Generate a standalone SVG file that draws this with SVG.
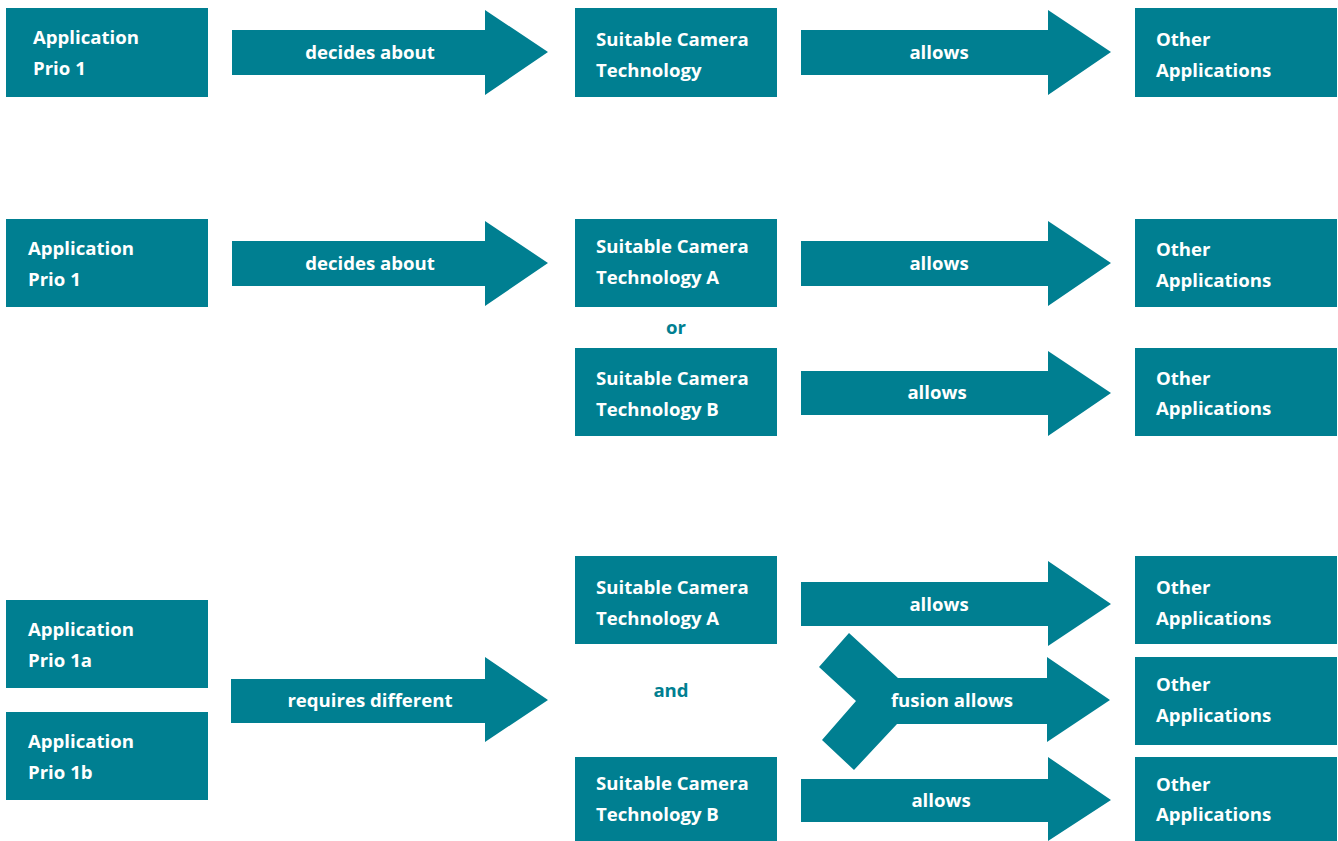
<svg xmlns="http://www.w3.org/2000/svg" width="1338" height="841" viewBox="0 0 1338 841">
<style>
.b{fill:#007F91}
.t{font-family:"Open Sans","Noto Sans",sans-serif;font-weight:700;font-size:18.6px;fill:#fff}
.c{text-anchor:middle}
.k{font-family:"Open Sans","Noto Sans",sans-serif;font-weight:700;font-size:18.6px;fill:#007F91;text-anchor:middle}
</style>
<rect width="1338" height="841" fill="#fff"/>
<g id="connectors">
<g id="a1"><polygon class="b" points="232,30 485,30 485,10 548,52 485,95 485,75 232,75"/><text class="t c" x="370" y="59">decides about</text></g>
<g id="a2"><polygon class="b" points="801,30 1048,30 1048,10 1111,52 1048,95 1048,75 801,75"/><text class="t c" x="939" y="59">allows</text></g>
<g id="a3"><polygon class="b" points="232,241 485,241 485,221 548,263 485,306 485,286 232,286"/><text class="t c" x="370" y="270">decides about</text></g>
<g id="a4"><polygon class="b" points="801,241 1048,241 1048,221 1111,263 1048,306 1048,286 801,286"/><text class="t c" x="939" y="270">allows</text></g>
<g id="a5"><polygon class="b" points="801,371 1048,371 1048,351 1111,393 1048,436 1048,415 801,415"/><text class="t c" x="937" y="399">allows</text></g>
<g id="a6"><polygon class="b" points="231,679 485,679 485,657 548,700 485,742 485,723 231,723"/><text class="t c" x="370" y="707">requires different</text></g>
<g id="a7"><polygon class="b" points="801,582 1048,582 1048,561 1111,604 1048,646 1048,626 801,626"/><text class="t c" x="939" y="611">allows</text></g>
<g id="a8"><polygon class="b" points="849,633 898,678 1047,678 1047,657 1110,700 1047,742 1047,724 897,724 854,770 822,740 856,701 819,667"/><text class="t c" x="952" y="707">fusion allows</text></g>
<g id="a9"><polygon class="b" points="801,779 1048,779 1048,757 1111,800 1048,841 1048,822 801,822"/><text class="t c" x="941" y="807">allows</text></g>
<text class="k" x="676" y="334">or</text>
<text class="k" x="671" y="697">and</text>
</g>
<g id="n1"><rect class="b" x="6" y="8" width="202" height="89"/><text class="t" x="33" y="44">Application</text><text class="t" x="33" y="75">Prio 1</text></g>
<g id="n2"><rect class="b" x="575" y="8" width="202" height="89"/><text class="t" x="596" y="46">Suitable Camera</text><text class="t" x="596" y="77">Technology</text></g>
<g id="n3"><rect class="b" x="1135" y="8" width="202" height="89"/><text class="t" x="1156" y="46">Other</text><text class="t" x="1156" y="77">Applications</text></g>
<g id="n4"><rect class="b" x="6" y="219" width="202" height="88"/><text class="t" x="28" y="255">Application</text><text class="t" x="28" y="286">Prio 1</text></g>
<g id="n5"><rect class="b" x="575" y="219" width="202" height="88"/><text class="t" x="596" y="253">Suitable Camera</text><text class="t" x="596" y="284">Technology A</text></g>
<g id="n6"><rect class="b" x="1135" y="219" width="202" height="88"/><text class="t" x="1156" y="256">Other</text><text class="t" x="1156" y="287">Applications</text></g>
<g id="n7"><rect class="b" x="575" y="348" width="202" height="88"/><text class="t" x="596" y="385">Suitable Camera</text><text class="t" x="596" y="416">Technology B</text></g>
<g id="n8"><rect class="b" x="1135" y="348" width="202" height="88"/><text class="t" x="1156" y="385">Other</text><text class="t" x="1156" y="415">Applications</text></g>
<g id="n9"><rect class="b" x="6" y="600" width="202" height="88"/><text class="t" x="28" y="636">Application</text><text class="t" x="28" y="667">Prio 1a</text></g>
<g id="n10"><rect class="b" x="6" y="712" width="202" height="88"/><text class="t" x="28" y="748">Application</text><text class="t" x="28" y="779">Prio 1b</text></g>
<g id="n11"><rect class="b" x="575" y="556" width="202" height="88"/><text class="t" x="596" y="594">Suitable Camera</text><text class="t" x="596" y="625">Technology A</text></g>
<g id="n12"><rect class="b" x="575" y="757" width="202" height="84"/><text class="t" x="596" y="790">Suitable Camera</text><text class="t" x="596" y="821">Technology B</text></g>
<g id="n13"><rect class="b" x="1135" y="556" width="202" height="88"/><text class="t" x="1156" y="594">Other</text><text class="t" x="1156" y="625">Applications</text></g>
<g id="n14"><rect class="b" x="1135" y="657" width="202" height="88"/><text class="t" x="1156" y="691">Other</text><text class="t" x="1156" y="722">Applications</text></g>
<g id="n15"><rect class="b" x="1135" y="757" width="202" height="84"/><text class="t" x="1156" y="791">Other</text><text class="t" x="1156" y="821">Applications</text></g>
</svg>
